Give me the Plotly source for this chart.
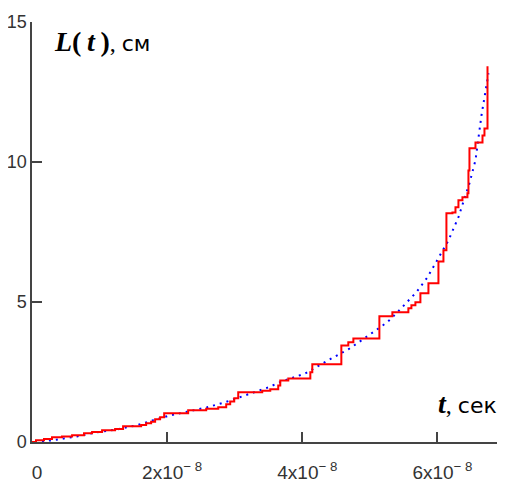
import plotly.graph_objects as go

# Experimental step curve (red): time of each jump (units of 1e-8 s) and new level L (cm)
step_t = [0.000, 0.059, 0.178, 0.296, 0.444, 0.593, 0.770, 0.889, 1.037, 1.230,
          1.348, 1.615, 1.689, 1.763, 1.822, 1.896, 1.956, 2.311, 2.578, 2.756,
          2.874, 2.933, 2.993, 3.052, 3.407, 3.526, 3.644, 3.674, 3.793, 4.119,
          4.148, 4.578, 4.681, 4.756, 5.141, 5.333, 5.570, 5.615, 5.674, 5.748,
          5.867, 6.015, 6.089, 6.133, 6.222, 6.267, 6.311, 6.370, 6.444, 6.459,
          6.474, 6.563, 6.667, 6.696, 6.741]
step_L = [0.00, 0.06, 0.11, 0.17, 0.20, 0.24, 0.31, 0.36, 0.42, 0.46,
          0.56, 0.61, 0.67, 0.72, 0.81, 0.88, 1.03, 1.13, 1.19, 1.24,
          1.35, 1.45, 1.56, 1.78, 1.83, 1.88, 2.02, 2.20, 2.27, 2.49,
          2.78, 3.45, 3.56, 3.70, 4.49, 4.63, 4.78, 4.88, 4.99, 5.31,
          5.67, 6.45, 6.85, 8.17, 8.20, 8.38, 8.63, 8.74, 8.88, 9.70,
          10.49, 10.70, 10.95, 11.20, 13.42]

# Theoretical smooth curve (blue dotted)
th_t = [0.044, 0.296, 0.667, 0.963, 1.259, 1.556, 1.793, 2.044, 2.296, 2.593,
        2.859, 3.185, 3.496, 3.704, 4.044, 4.459, 4.681, 4.859, 5.052, 5.259,
        5.422, 5.541, 5.689, 5.852, 5.970, 6.163, 6.311, 6.474, 6.563, 6.652, 6.756]
th_L = [0.00, 0.06, 0.20, 0.35, 0.45, 0.60, 0.78, 0.95, 1.08, 1.24,
        1.42, 1.70, 1.95, 2.17, 2.45, 3.02, 3.31, 3.60, 3.92, 4.28,
        4.67, 4.96, 5.35, 5.88, 6.38, 7.20, 8.03, 9.24, 10.06, 11.67, 13.17]

x_tickvals = [0, 2e-8, 4e-8, 6e-8]
x_ticktext = ["0", "2x10<sup>\u2212 8</sup>", "4x10<sup>\u2212 8</sup>", "6x10<sup>\u2212 8</sup>"]
y_tickvals = [0, 5, 10, 15]
y_ticktext = ["0", "5", "10", "15"]

scale = 1e-8
fig = go.Figure()
fig.add_trace(go.Scatter(x=[t * scale for t in th_t], y=th_L, mode="lines",
                         line=dict(color="#0000ff", width=2, dash="2px,5px"),
                         showlegend=False, hoverinfo="skip"))
fig.add_trace(go.Scatter(x=[t * scale for t in step_t], y=step_L, mode="lines",
                         line=dict(color="#ff0000", width=2, shape="hv"),
                         showlegend=False, hoverinfo="skip"))

axis_color = "#444444"

# the page body adds an 8px offset, so the figure is 8px smaller and margins compensate
fig.update_layout(
    width=497, height=471,
    margin=dict(l=24, r=0, t=14, b=37, pad=0),
    paper_bgcolor="white", plot_bgcolor="white",
    xaxis=dict(range=[0, 7e-8], showgrid=False, zeroline=False,
               showline=True, linecolor=axis_color, linewidth=1.5,
               ticks="inside", ticklen=10, tickwidth=1.5, tickcolor=axis_color,
               tickvals=x_tickvals, ticktext=x_ticktext,
               tickfont=dict(family="Liberation Sans", size=19, color="#333333"),
               ticklabelstandoff=12, ticklabelshift=5, automargin=False),
    yaxis=dict(range=[0, 15], showgrid=False, zeroline=False,
               showline=True, linecolor=axis_color, linewidth=1.5,
               ticks="inside", ticklen=10, tickwidth=1.5, tickcolor=axis_color,
               tickvals=y_tickvals, ticktext=y_ticktext,
               tickfont=dict(family="Liberation Sans", size=18, color="#333333"),
               automargin=False),
    annotations=[
        dict(xref="paper", yref="paper", x=(52 - 32) / 473, y=(441.7 - 41) / 420,
             xanchor="left", yanchor="middle", showarrow=False,
             text="<span style='font-family:Liberation Serif;font-size:28px'><b><i>L</i>(\u2009<i>t</i>\u2009)</b></span>, "
                  "<span style='font-family:DejaVu Sans;font-size:22px'>см</span>",
             font=dict(family="Liberation Serif", size=24, color="black")),
        dict(xref="paper", yref="paper", x=(499 - 32) / 473, y=(441.7 - 403) / 420,
             xanchor="right", yanchor="middle", showarrow=False,
             text="<span style='font-family:Liberation Serif;font-size:28px'><b><i>t</i></b></span>, "
                  "<span style='font-family:DejaVu Sans;font-size:22px'>сек</span>",
             font=dict(family="Liberation Serif", size=24, color="black")),
    ],
)

fig.write_html("out.html")
